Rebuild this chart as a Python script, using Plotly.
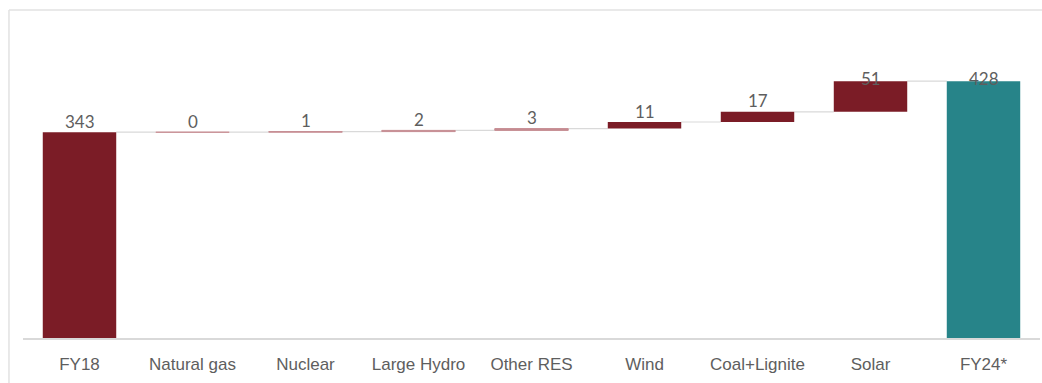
import plotly.graph_objects as go

# Generation change bridge FY18 -> FY24*
categories = ["FY18", "Natural gas", "Nuclear", "Large Hydro", "Other RES",
              "Wind", "Coal+Lignite", "Solar", "FY24*"]
start_value = 343
increments = [0, 1, 2, 3, 11, 17, 51]
end_value = 428

DARK_RED = "#7B1C26"
THIN_RED = "#C58C92"
TEAL = "#278489"
GREY_TXT = "#5E5E5E"
LINE_GREY = "#D9D9D9"
BAR_W = 0.65

# bases and heights for each bar
bases = [0]
heights = [start_value]
level = start_value
for inc in increments:
    bases.append(level)
    heights.append(inc)
    level += inc
bases.append(0)
heights.append(end_value)
tops = [b + h for b, h in zip(bases, heights)]

colors = [DARK_RED] * (len(categories) - 1) + [TEAL]
line_w = [1 if 0 < i < len(categories) - 1 and h < 5 else 0
          for i, h in enumerate(heights)]
line_c = [THIN_RED if w else c for w, c in zip(line_w, colors)]
fill_c = [THIN_RED if w else c for w, c in zip(line_w, colors)]

fig = go.Figure()
fig.add_trace(go.Bar(
    x=categories, y=heights, base=bases, width=BAR_W,
    marker=dict(color=fill_c, line=dict(color=line_c, width=line_w)),
    hoverinfo="skip", showlegend=False,
))

shapes = []
# connectors between neighbouring bars
for i in range(len(categories) - 1):
    shapes.append(dict(
        type="line", xref="x", yref="y",
        x0=i + BAR_W / 2, x1=i + 1 - BAR_W / 2, y0=tops[i], y1=tops[i],
        line=dict(color=LINE_GREY, width=1.2), layer="below",
    ))
# light frame around the chart
shapes.append(dict(type="line", xref="paper", yref="paper",
                   x0=-0.0138, x1=-0.0138, y0=-0.2, y1=1.0314,
                   line=dict(color="#E2E2E2", width=1.5)))
shapes.append(dict(type="line", xref="paper", yref="paper",
                   x0=-0.0138, x1=1.05, y0=1.0314, y1=1.0314,
                   line=dict(color="#E2E2E2", width=1.5)))

labels = [start_value] + increments + [end_value]
annotations = []
for cat, top, val in zip(categories, tops, labels):
    annotations.append(dict(
        x=cat, y=top, xref="x", yref="y", text=str(val), showarrow=False,
        yanchor="middle", yshift=11 if top < 400 else 3,
        font=dict(family="Lato, Open Sans, sans-serif", size=17, color=GREY_TXT),
    ))

fig.update_layout(
    width=1042, height=383,
    margin=dict(l=23, r=2, t=20, b=45),
    paper_bgcolor="white", plot_bgcolor="white",
    bargap=0.35,
    shapes=shapes, annotations=annotations,
    xaxis=dict(
        type="category", showgrid=False, zeroline=False,
        showline=True, linecolor=LINE_GREY, linewidth=1.5,
        ticks="", ticklabelstandoff=10,
        tickfont=dict(family="Liberation Sans, Arial, sans-serif", size=17, color=GREY_TXT),
        range=[-0.5, len(categories) - 0.5],
    ),
    yaxis=dict(range=[0, 530], visible=False, showgrid=False, zeroline=False),
)

fig.write_html("out.html")
